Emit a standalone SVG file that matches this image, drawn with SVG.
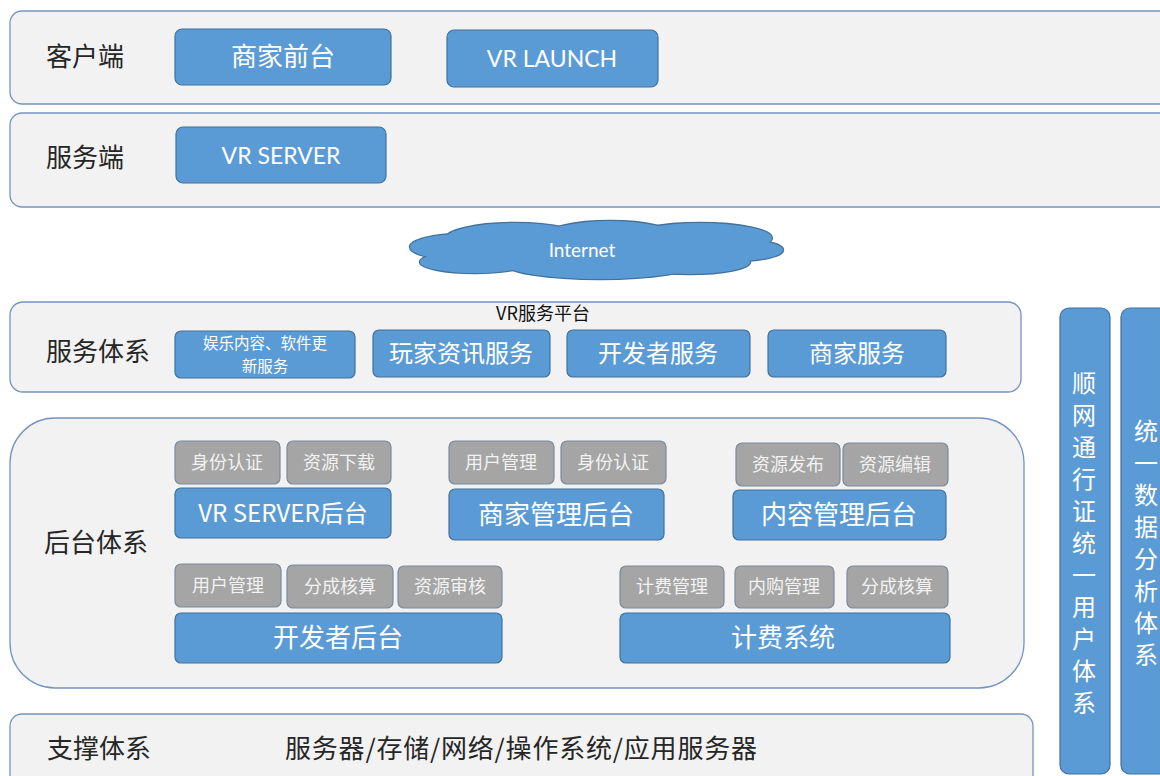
<svg xmlns="http://www.w3.org/2000/svg" width="1160" height="776" viewBox="0 0 1160 776">
<style>
.cont{fill:#f2f2f2;stroke:#7394c4;stroke-width:1.3}
.blue{fill:#5b9bd5;stroke:#41719c;stroke-width:1.2}
.gray{fill:#a5a5a5;stroke:#7b8a9c;stroke-width:1.2}
text{font-family:"Noto Sans CJK SC","Noto Sans",sans-serif}
.lat{font-family:Lato,"Noto Sans CJK SC",sans-serif}
.lbl{fill:#262626;font-size:26px}
.wt{fill:#ffffff;text-anchor:middle}
.gt{fill:#f2f2f2;text-anchor:middle;font-size:18px}
.cl-s{fill:#41719c;stroke:#41719c;stroke-width:2.4}
.cl-f{fill:#5b9bd5}
</style>
<rect width="1160" height="776" fill="#ffffff"/>

<g id="client">
<rect class="cont" x="10" y="11" width="1170" height="93" rx="12"/>
<text class="lbl" x="46" y="66">客户端</text>
</g>
<g id="merchant-front">
<rect class="blue" x="175" y="29" width="216" height="56" rx="7"/>
<text class="wt" x="283" y="66" font-size="26">商家前台</text>
</g>
<g id="vr-launch">
<rect class="blue" x="447" y="30" width="211" height="57" rx="7"/>
<text class="wt lat" x="552" y="67" font-size="23">VR LAUNCH</text>
</g>

<g id="server">
<rect class="cont" x="10" y="113" width="1170" height="94" rx="12"/>
<text class="lbl" x="46" y="167">服务端</text>
</g>
<g id="vr-server">
<rect class="blue" x="176" y="127" width="210" height="56" rx="7"/>
<text class="wt lat" x="281" y="164" font-size="23">VR SERVER</text>
</g>

<g id="internet">
<g class="cl-s">
<ellipse cx="462" cy="247" rx="52" ry="13"/>
<ellipse cx="475" cy="262" rx="55" ry="11"/>
<ellipse cx="515" cy="239" rx="70" ry="16"/>
<ellipse cx="610" cy="236" rx="65" ry="15"/>
<ellipse cx="700" cy="238" rx="72" ry="15"/>
<ellipse cx="735" cy="250" rx="48" ry="11"/>
<ellipse cx="600" cy="264" rx="95" ry="15"/>
<ellipse cx="690" cy="262" rx="60" ry="12"/>
</g>
<g class="cl-f">
<ellipse cx="462" cy="247" rx="52" ry="13"/>
<ellipse cx="475" cy="262" rx="55" ry="11"/>
<ellipse cx="515" cy="239" rx="70" ry="16"/>
<ellipse cx="610" cy="236" rx="65" ry="15"/>
<ellipse cx="700" cy="238" rx="72" ry="15"/>
<ellipse cx="735" cy="250" rx="48" ry="11"/>
<ellipse cx="600" cy="264" rx="95" ry="15"/>
<ellipse cx="690" cy="262" rx="60" ry="12"/>
<ellipse cx="597" cy="250" rx="150" ry="12"/>
</g>
<text class="wt lat" x="582" y="257" font-size="19">Internet</text>
</g>

<g id="service-system">
<rect class="cont" x="10" y="302" width="1011" height="90" rx="13"/>
<text x="543" y="320" text-anchor="middle" font-size="18" fill="#111">VR服务平台</text>
<text class="lbl" x="46" y="361">服务体系</text>
</g>
<g id="svc-entertain">
<rect class="blue" x="175" y="331" width="180" height="47" rx="6"/>
<text class="wt" x="265" y="349" font-size="15.5">娱乐内容、软件更</text>
<text class="wt" x="265" y="372" font-size="15.5">新服务</text>
</g>
<g id="svc-player">
<rect class="blue" x="373" y="330" width="177" height="47" rx="6"/>
<text class="wt" x="461" y="362" font-size="24">玩家资讯服务</text>
</g>
<g id="svc-dev">
<rect class="blue" x="567" y="330" width="183" height="47" rx="6"/>
<text class="wt" x="658" y="362" font-size="24">开发者服务</text>
</g>
<g id="svc-merchant">
<rect class="blue" x="768" y="330" width="178" height="47" rx="6"/>
<text class="wt" x="857" y="362" font-size="24">商家服务</text>
</g>

<g id="backend-system">
<rect class="cont" x="10" y="418" width="1014" height="270" rx="45"/>
<text class="lbl" x="44" y="552">后台体系</text>
</g>

<g id="vrs-backend">
<rect class="gray" x="175" y="441" width="105" height="43" rx="6"/>
<text class="gt" x="227" y="469">身份认证</text>
<rect class="gray" x="287" y="441" width="104" height="43" rx="6"/>
<text class="gt" x="339" y="469">资源下载</text>
<rect class="blue" x="175" y="488" width="216" height="50" rx="6"/>
<text class="wt" x="283" y="522" font-size="24">VR SERVER后台</text>
</g>

<g id="merchant-backend">
<rect class="gray" x="449" y="441" width="105" height="43" rx="6"/>
<text class="gt" x="501" y="469">用户管理</text>
<rect class="gray" x="561" y="441" width="105" height="43" rx="6"/>
<text class="gt" x="613" y="469">身份认证</text>
<rect class="blue" x="449" y="489" width="215" height="51" rx="6"/>
<text class="wt" x="556" y="524" font-size="26">商家管理后台</text>
</g>

<g id="content-backend">
<rect class="gray" x="736" y="443" width="104" height="43" rx="6"/>
<text class="gt" x="788" y="471">资源发布</text>
<rect class="gray" x="843" y="443" width="105" height="43" rx="6"/>
<text class="gt" x="895" y="471">资源编辑</text>
<rect class="blue" x="733" y="490" width="213" height="50" rx="6"/>
<text class="wt" x="839" y="524" font-size="26">内容管理后台</text>
</g>

<g id="dev-backend">
<rect class="gray" x="175" y="564" width="106" height="43" rx="6"/>
<text class="gt" x="228" y="592">用户管理</text>
<rect class="gray" x="287" y="565" width="106" height="43" rx="6"/>
<text class="gt" x="340" y="593">分成核算</text>
<rect class="gray" x="398" y="566" width="104" height="42" rx="6"/>
<text class="gt" x="450" y="593">资源审核</text>
<rect class="blue" x="175" y="613" width="327" height="50" rx="6"/>
<text class="wt" x="338" y="647" font-size="26">开发者后台</text>
</g>

<g id="billing">
<rect class="gray" x="620" y="566" width="104" height="42" rx="6"/>
<text class="gt" x="672" y="593">计费管理</text>
<rect class="gray" x="735" y="566" width="99" height="42" rx="6"/>
<text class="gt" x="784" y="593">内购管理</text>
<rect class="gray" x="847" y="566" width="101" height="42" rx="6"/>
<text class="gt" x="897" y="593">分成核算</text>
<rect class="blue" x="620" y="613" width="330" height="50" rx="6"/>
<text class="wt" x="783" y="647" font-size="26">计费系统</text>
</g>

<g id="support-system">
<rect class="cont" x="10" y="714" width="1023" height="90" rx="12"/>
<text class="lbl" x="47" y="758">支撑体系</text>
<text class="lbl" x="285" y="758" textLength="472" lengthAdjust="spacing">服务器/存储/网络/操作系统/应用服务器</text>
</g>

<g id="user-system">
<rect class="blue" x="1060" y="308" width="50" height="466" rx="9"/>
<text class="wt" x="1084" y="392" font-size="24"><tspan x="1084">顺</tspan><tspan x="1084" dy="32">网</tspan><tspan x="1084" dy="32">通</tspan><tspan x="1084" dy="32">行</tspan><tspan x="1084" dy="32">证</tspan><tspan x="1084" dy="32">统</tspan><tspan x="1084" dy="32">一</tspan><tspan x="1084" dy="32">用</tspan><tspan x="1084" dy="32">户</tspan><tspan x="1084" dy="32">体</tspan><tspan x="1084" dy="32">系</tspan></text>
</g>

<g id="data-system">
<rect class="blue" x="1121" y="308" width="60" height="466" rx="9"/>
<text class="wt" x="1146" y="440" font-size="24"><tspan x="1146">统</tspan><tspan x="1146" dy="32">一</tspan><tspan x="1146" dy="32">数</tspan><tspan x="1146" dy="32">据</tspan><tspan x="1146" dy="32">分</tspan><tspan x="1146" dy="32">析</tspan><tspan x="1146" dy="32">体</tspan><tspan x="1146" dy="32">系</tspan></text>
</g>

<g id="connectors"></g>
</svg>
